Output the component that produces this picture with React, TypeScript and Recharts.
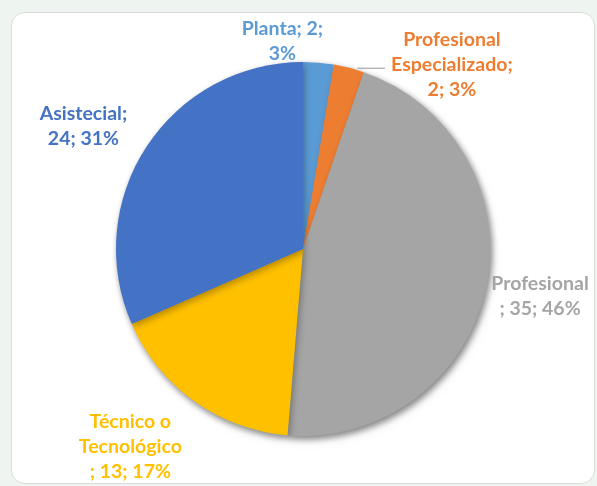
import { Pie, PieChart, Cell } from "recharts"

const categories = ["Planta", "Profesional Especializado", "Profesional", "Técnico o Tecnológico", "Asistecial"]
const counts = [2, 2, 35, 13, 24]
const colors = ["#5b9bd5", "#ed7d31", "#a5a5a5", "#ffc000", "#4472c4"]

// how each label is broken into lines, as Excel shows it
const labelLines = [
    ["Planta; 2;", "3%"],
    ["Profesional", "Especializado;", "2; 3%"],
    ["Profesional", "; 35; 46%"],
    ["Técnico o", "Tecnológico", "; 13; 17%"],
    ["Asistecial;", "24; 31%"],
]

// label centre, relative to the slice's outer edge at its mid angle
const labelOffsets = [
    { dx: -36, dy: -23 },
    { dx: 103, dy: -5 },
    { dx: 54, dy: 7 },
    { dx: -64, dy: 44 },
    { dx: -63, dy: -22 },
]

const data = categories.map((name, i) => ({ name, value: counts[i] }))

const RADIAN = Math.PI / 180
const LINE_H = 25

function renderLabel(props: any) {
    const { cx, cy, midAngle, outerRadius, index } = props
    const ex = cx + outerRadius * Math.cos(-midAngle * RADIAN)
    const ey = cy + outerRadius * Math.sin(-midAngle * RADIAN)
    const lx = ex + labelOffsets[index].dx
    const ly = ey + labelOffsets[index].dy
    const lines = labelLines[index]
    const top = ly - ((lines.length - 1) * LINE_H) / 2
    let leader = null
    if (index === 1) {
        const sx = cx + (outerRadius + 2) * Math.cos(-72 * RADIAN)
        const sy = cy + (outerRadius + 2) * Math.sin(-72 * RADIAN)
        leader = <line x1={sx - 4} y1={sy - 1} x2={lx - 67} y2={sy - 1} stroke="#a6a6a6" strokeWidth={1.2} />
    }
    return (
        <g key={`lbl-${index}`}>
            {leader}
            <text
                x={lx}
                y={top}
                fill={colors[index]}
                textAnchor="middle"
                dominantBaseline="central"
                style={{ fontFamily: "Lato, 'Open Sans', sans-serif", fontWeight: 700, fontSize: 19.5 }}
            >
                {lines.map((t, i) => (
                    <tspan key={i} x={lx} dy={i === 0 ? 0 : LINE_H}>
                        {t}
                    </tspan>
                ))}
            </text>
        </g>
    )
}

export default function App() {
    return (
        <div style={{ position: "absolute", left: 0, top: 0, width: 597, height: 486, background: "#eef5f1", overflow: "hidden" }}>
            <style>{".pie-shadow { filter: drop-shadow(2px 3px 3px rgba(0,0,0,0.28)); }"}</style>
            <div
                style={{
                    position: "absolute",
                    left: 11,
                    top: 12,
                    width: 582,
                    height: 470,
                    background: "#ffffff",
                    border: "1px solid #d9dcda",
                    borderRadius: 14,
                }}
            />
            <div style={{ position: "absolute", left: 0, top: 0 }}>
                <PieChart width={597} height={486} margin={{ top: 0, right: 0, bottom: 0, left: 0 }}>
                    <Pie
                        className="pie-shadow"
                        data={data}
                        dataKey="value"
                        cx={303}
                        cy={249}
                        outerRadius={187}
                        startAngle={90}
                        endAngle={-270}
                        stroke="none"
                        isAnimationActive={false}
                    >
                        {data.map((d, i) => (
                            <Cell key={d.name} fill={colors[i]} />
                        ))}
                    </Pie>
                    <Pie
                        data={data}
                        dataKey="value"
                        cx={303}
                        cy={249}
                        outerRadius={187}
                        startAngle={90}
                        endAngle={-270}
                        fill="none"
                        stroke="none"
                        label={renderLabel}
                        labelLine={false}
                        isAnimationActive={false}
                    />
                </PieChart>
            </div>
        </div>
    )
}
